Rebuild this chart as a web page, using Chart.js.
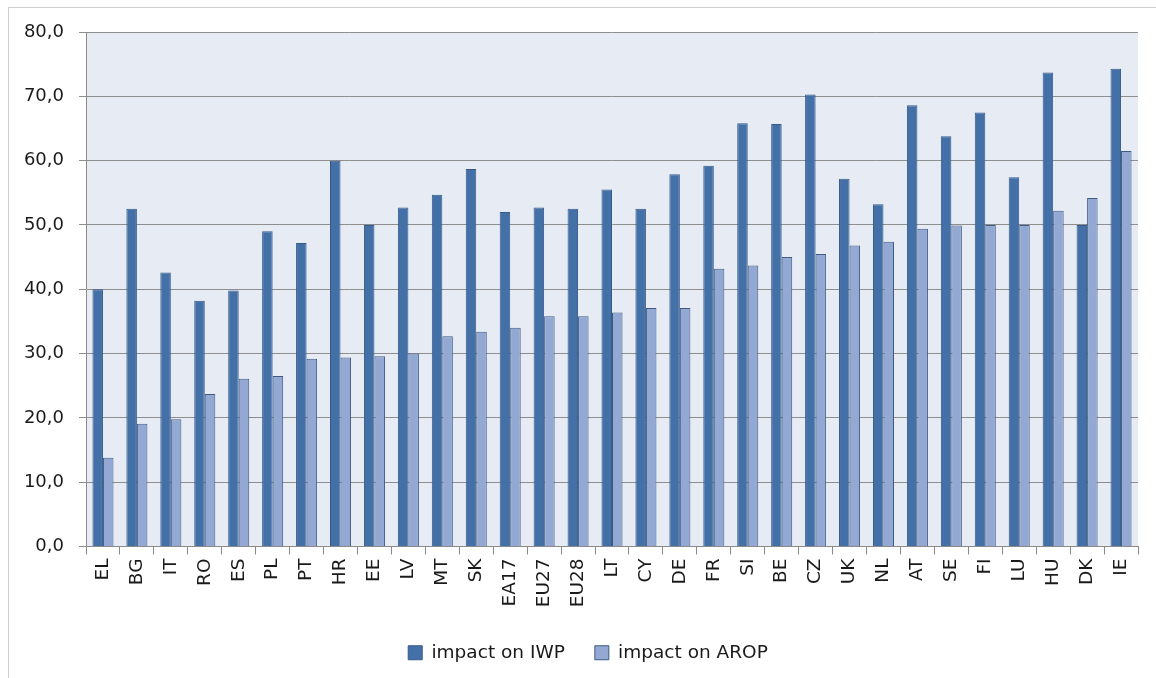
<!DOCTYPE html>
<html>
<head>
<meta charset="utf-8">
<script src="https://cdn.jsdelivr.net/npm/chart.js@4"></script>
<style>
  body { margin: 0; background: #fff; }
  #frame { position: absolute; left: 8px; top: 7px; width: 1160px; height: 690px;
           border-left: 1px solid #cfcfcf; border-top: 1px solid #cfcfcf; }
  #wrap { position: absolute; left: 0; top: 0; width: 1156px; height: 678px; }
</style>
</head>
<body>
<div id="frame"></div>
<div id="wrap"><canvas id="myChart" width="1156" height="678"></canvas></div>
<script>
// countries, sorted as in the source
const labels = ['EL', 'BG', 'IT', 'RO', 'ES', 'PL', 'PT', 'HR', 'EE', 'LV', 'MT', 'SK', 'EA17', 'EU27', 'EU28',
  'LT', 'CY', 'DE', 'FR', 'SI', 'BE', 'CZ', 'UK', 'NL', 'AT', 'SE', 'FI', 'LU', 'HU', 'DK', 'IE'];

const impactIWP = [40.0, 52.5, 42.6, 38.2, 39.8, 49.0, 47.2, 60.0, 50.0, 52.7, 54.7, 58.7, 52.0, 52.7, 52.5,
  55.5, 52.5, 57.9, 59.2, 65.8, 65.7, 70.3, 57.2, 53.2, 68.6, 63.8, 67.5, 57.4, 73.7, 50.0, 74.3];

const impactAROP = [13.8, 19.1, 19.8, 23.7, 26.1, 26.5, 29.2, 29.4, 29.6, 30.0, 32.7, 33.4, 34.0, 35.8, 35.8,
  36.4, 37.1, 37.1, 43.2, 43.7, 45.0, 45.5, 46.8, 47.4, 49.4, 49.9, 50.0, 50.0, 52.2, 54.2, 61.5];

const yTicks = [0, 10, 20, 30, 40, 50, 60, 70, 80];

const FONT = 'DejaVu Sans';

// light blue plot area like the excel chart
const plotBg = {
  id: 'plotBg',
  beforeDraw(chart) {
    const a = chart.chartArea;
    const ctx = chart.ctx;
    ctx.save();
    ctx.fillStyle = '#e7ecf4';
    ctx.fillRect(a.left, a.top, a.right - a.left, a.bottom - a.top);
    ctx.restore();
  }
};

// legend sits a bit right of the canvas centre in the original
const legendShift = {
  id: 'legendShift',
  afterLayout(chart) {
    chart.legend.left += 38;
  }
};

const data = {
  labels: labels,
  datasets: [{
    label: 'impact on IWP',
    data: impactIWP,
    backgroundColor: '#4470a8',
    borderColor: '#365a88',
    borderWidth: 1
  }, {
    label: 'impact on AROP',
    data: impactAROP,
    backgroundColor: '#93a9d3',
    borderColor: '#3f5b84',
    borderWidth: 1
  }]
};

const myChart = new Chart(document.getElementById('myChart'), {
  type: 'bar',
  data: data,
  plugins: [plotBg, legendShift],
  options: {
    responsive: false,
    animation: false,
    layout: { padding: { top: 32, right: 18, left: 0, bottom: 6 } },
    datasets: { bar: { barPercentage: 1, categoryPercentage: 0.62 } },
    plugins: {
      tooltip: { enabled: false },
      legend: {
        position: 'bottom',
        labels: {
          color: '#1a1a1a',
          font: { family: FONT, size: 18.5 },
          boxWidth: 14,
          boxHeight: 14,
          padding: 30
        }
      }
    },
    scales: {
      x: {
        afterFit(scale) { scale.height = 67; },
        border: { color: '#8a8a8a' },
        grid: { offset: true, drawOnChartArea: false, drawTicks: true, tickLength: 8, color: '#8a8a8a' },
        ticks: {
          autoSkip: false, minRotation: 90, maxRotation: 90, padding: 4,
          color: '#1a1a1a', font: { family: FONT, size: 18.5 }
        }
      },
      y: {
        min: 0,
        max: 80,
        afterFit(scale) { scale.width = 86; },
        afterBuildTicks(scale) { scale.ticks = yTicks.map(v => ({ value: v })); },
        border: { color: '#8a8a8a' },
        grid: { color: '#8e8e8e', tickLength: 7 },
        ticks: {
          padding: 15,
          color: '#1a1a1a',
          font: { family: FONT, size: 18 },
          callback: v => v.toFixed(1).replace('.', ',')
        }
      }
    }
  }
});
</script>
</body>
</html>
